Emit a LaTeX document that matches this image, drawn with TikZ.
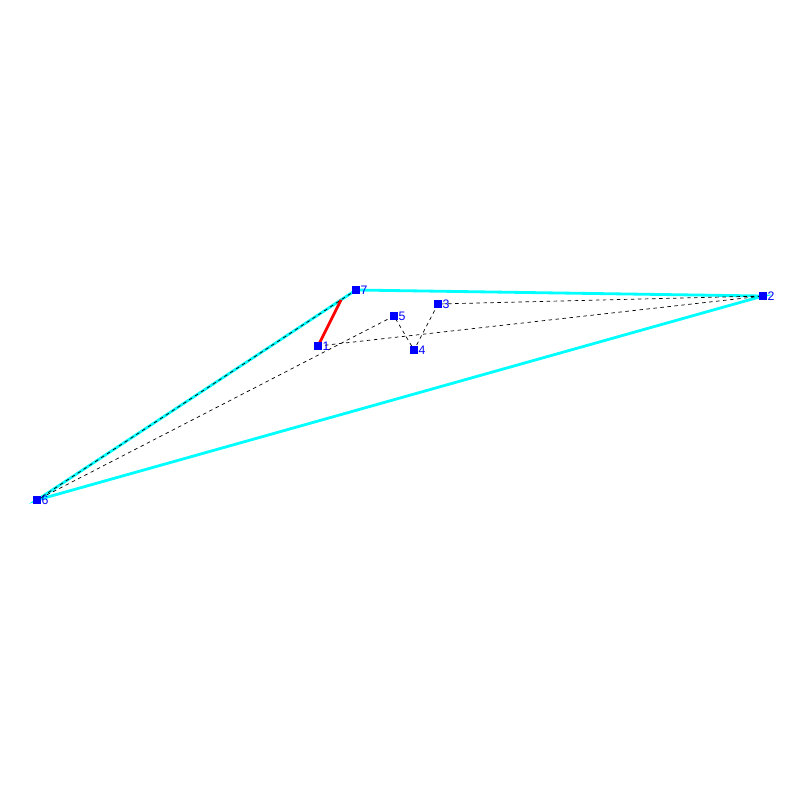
\documentclass[tikz,border=0pt]{standalone}
\usepackage{fontspec}
\setmainfont{Liberation Sans}
\usepackage{tikz}
\usetikzlibrary{calc}
\definecolor{hullcyan}{RGB}{0,255,255}

\begin{document}
\begin{tikzpicture}[x=0.03cm, y=-0.03cm]
 \useasboundingbox (0,0) rectangle (800,800);

 % point positions
 \foreach \n/\x/\y in {1/318/346, 2/763/296, 3/438/304, 4/414/350, 5/394/316, 6/37/500, 7/356/290}
    \coordinate (p\n) at (\x,\y);
 \coordinate (foot) at ($(p6)!0.953!(p7)$);

 \begin{scope}[line width=2.4pt, hullcyan]
    \draw (p6) -- (p7) -- (p2) -- cycle;
 \end{scope}

 \begin{scope}[line width=0.6pt, dash pattern=on 3pt off 3pt]
    \draw (p1) -- (p2) -- (p3) -- (p4) -- (p5) -- (p6) -- (p7);
 \end{scope}

 \draw[red, line width=2.4pt] (p1) -- (foot);

 \begin{scope}[every node/.style={draw=blue, fill=blue, rectangle, inner sep=0pt, minimum size=6pt}]
    \foreach \n in {1,...,7}
    {
        \node (q\n) at (p\n) {};
        \node[draw=none, fill=none, blue, anchor=west, font=\fontsize{10.5}{10.5}\selectfont, minimum size=0pt, inner sep=0.5pt] (t\n) at (q\n.east) {\n};
    }
 \end{scope}
\end{tikzpicture}
\end{document}
